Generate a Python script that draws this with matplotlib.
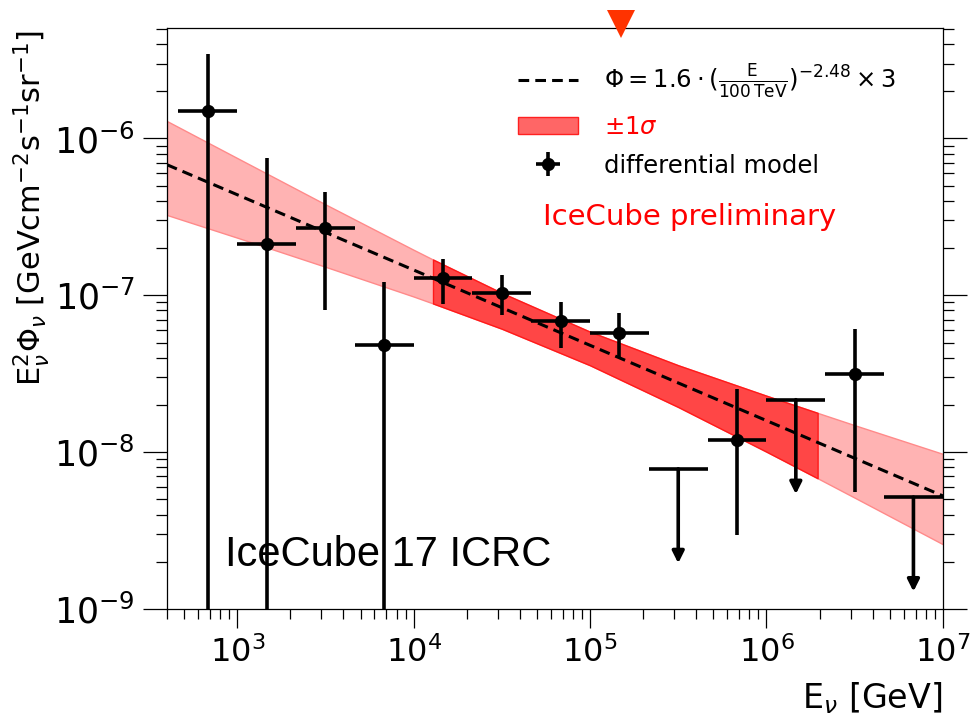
import matplotlib
matplotlib.use("Agg")
import matplotlib.pyplot as plt
import matplotlib.transforms as mtransforms
from matplotlib import ticker
from matplotlib.patches import Patch
import numpy as np

# measured bins (GeV) and E^2 flux (GeV cm^-2 s^-1 sr^-1)
meas_E = [681, 1468, 3162, 6813, 14678, 31623, 68129, 146780, 681292, 3162278]
meas_Elo = [464, 1000, 2154, 4642, 10000, 21544, 46416, 100000, 464159, 2154435]
meas_Ehi = [1000, 2154, 4642, 10000, 21544, 46416, 100000, 215443, 1000000, 4641589]
meas_flux = [1.49e-6, 2.11e-7, 2.67e-7, 4.8e-8, 1.29e-7, 1.04e-7, 6.82e-8, 5.78e-8, 1.19e-8, 3.13e-8]
meas_hi = [3.44e-6, 7.45e-7, 4.56e-7, 1.22e-7, 1.70e-7, 1.35e-7, 9.06e-8, 7.71e-8, 2.54e-8, 6.07e-8]
meas_lo = [1e-12, 1e-12, 8.0e-8, 1e-12, 8.85e-8, 7.45e-8, 4.64e-8, 4.0e-8, 2.97e-9, 5.6e-9]

# upper limits
ul_E = [316228, 1467799, 6812921]
ul_Elo = [215443, 1000000, 4641589]
ul_Ehi = [464159, 2154435, 10000000]
ul_flux = [7.83e-9, 2.16e-8, 5.17e-9]
ul_arrow = 0.25  # arrow end as fraction of the limit

# best fit power law
phi0 = 1.6e-18
gamma = 2.48
scale = 3
E_line = [400, 1e7]

# +-1 sigma band edges
band_E = [400, 1000, 3162, 10000, 12880, 31623, 1e5, 316228, 1e6, 1.95e6, 3.16e6, 1e7]
band_hi = [1.29e-6, 7.50e-7, 3.80e-7, 1.95e-7, 1.69e-7, 1.035e-7, 5.86e-8, 3.58e-8,
           2.29e-8, 1.78e-8, 1.486e-8, 9.75e-9]
band_lo = [3.25e-7, 2.33e-7, 1.52e-7, 9.82e-8, 8.87e-8, 6.12e-8, 3.58e-8, 1.94e-8,
           1.007e-8, 6.82e-9, 5.13e-9, 2.59e-9]
dark_from, dark_to = 4, 9  # sensitive energy range

E_marker = 1.5e5

x_ticks = [1e3, 1e4, 1e5, 1e6, 1e7]
y_ticks = [1e-9, 1e-8, 1e-7, 1e-6]

fig = plt.figure(figsize=(9.71, 7.17), dpi=100)
ax = fig.add_axes([0.172, 0.1506, 0.799, 0.8104])

ax.fill_between(band_E, band_lo, band_hi, facecolor="#ffb3b3",
                edgecolor="#ff8a8a", lw=1, zorder=1)
sl = slice(dark_from, dark_to + 1)
ax.fill_between(band_E[sl], band_lo[sl], band_hi[sl], facecolor="#ff4646",
                edgecolor="#ff1a1a", lw=1, zorder=2)

E_line = np.array(E_line)
model = phi0 * (E_line / 1e5) ** (-gamma) * E_line**2 * scale
line, = ax.plot(E_line, model, color="k", lw=2.2, dashes=(3.5, 2), zorder=3)

xerr = [np.array(meas_E) - np.array(meas_Elo), np.array(meas_Ehi) - np.array(meas_E)]
yerr = [np.array(meas_flux) - np.array(meas_lo), np.array(meas_hi) - np.array(meas_flux)]
eb = ax.errorbar(meas_E, meas_flux, xerr=xerr, yerr=yerr, fmt="o", color="k",
                 ms=8.5, elinewidth=2.6, capsize=0, zorder=4)

ul_xerr = [np.array(ul_E) - np.array(ul_Elo), np.array(ul_Ehi) - np.array(ul_E)]
ax.errorbar(ul_E, ul_flux, xerr=ul_xerr, fmt="none", ecolor="k",
            elinewidth=2.6, capsize=0, zorder=4)
for e, u in zip(ul_E, ul_flux):
    ax.annotate("", xy=(e, u * ul_arrow), xytext=(e, u),
                arrowprops=dict(arrowstyle="-|>,head_width=0.35,head_length=0.7",
                                color="k", lw=2.6, shrinkA=0, shrinkB=0),
                zorder=4)

trans = mtransforms.blended_transform_factory(ax.transData, ax.transAxes)
ax.plot([E_marker], [1.006], marker="v", ms=20, color="#ff3300", mew=0,
        transform=trans, clip_on=False, zorder=10)

ax.set_xscale("log")
ax.set_yscale("log")
ax.set_xlim(400, 1e7)
ax.set_ylim(1e-9, 5.06e-6)
ax.xaxis.set_major_locator(ticker.FixedLocator(x_ticks))
ax.yaxis.set_major_locator(ticker.FixedLocator(y_ticks))
ax.xaxis.set_major_formatter(ticker.LogFormatterSciNotation())
ax.yaxis.set_major_formatter(ticker.LogFormatterSciNotation())
for a in (ax.xaxis, ax.yaxis):
    a.set_minor_locator(ticker.LogLocator(base=10, subs=np.arange(2, 10), numticks=20))
    a.set_minor_formatter(ticker.NullFormatter())

ax.tick_params(axis="x", which="major", direction="out", length=14, width=0.9,
               labelsize=23, pad=6, top=False)
ax.tick_params(axis="x", which="minor", direction="out", length=7, width=0.9, top=False)
ax.tick_params(axis="y", which="major", direction="out", length=17, width=0.9,
               labelsize=25, pad=6, right=True)
ax.tick_params(axis="y", which="minor", direction="out", length=8, width=0.9, right=True)
for s in ax.spines.values():
    s.set_linewidth(0.9)

ax.set_ylabel(r"E$_\nu^2\Phi_\nu$ [GeVcm$^{-2}$s$^{-1}$sr$^{-1}$]", fontsize=22)
ax.yaxis.set_label_coords(-0.148, 0.69)
ax.set_xlabel(r"E$_\nu$ [GeV]", fontsize=24, ha="right")
ax.xaxis.set_label_coords(1.0, -0.122)

handles = [line, Patch(facecolor="#ff6666", edgecolor="#ff2020"), eb]
labels = [r"$\Phi = 1.6\cdot(\frac{\mathrm{E}}{100\,\mathrm{TeV}})^{-2.48}\times 3$",
          r"$\pm1\sigma$", "differential model"]
leg = ax.legend(handles, labels, loc="upper left", bbox_to_anchor=(0.452, 0.94),
                frameon=False, fontsize=17.5, handlelength=2.5, handletextpad=1.05,
                labelspacing=0.6, borderpad=0, borderaxespad=0)
leg.get_texts()[1].set_color("red")

ax.text(0.485, 0.675, "IceCube preliminary", color="red", fontsize=21,
        transform=ax.transAxes, va="center")
ax.text(0.075, 0.074, "IceCube 17 ICRC", fontsize=30, family="Liberation Sans",
        transform=ax.transAxes, va="baseline")

fig.savefig("out.png", dpi=100)
